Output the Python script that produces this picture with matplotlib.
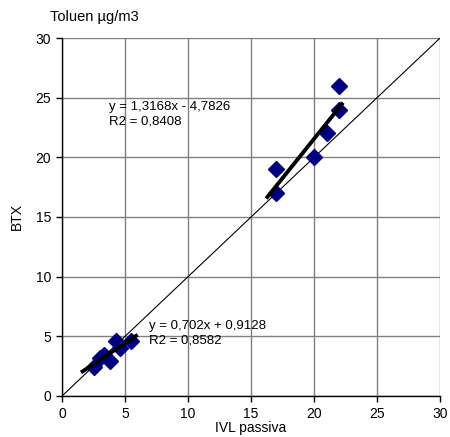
import numpy as np
import matplotlib
matplotlib.use("Agg")
import matplotlib.pyplot as plt

plt.rcParams['font.family'] = ['Liberation Sans', 'DejaVu Sans']

# passive sampler (IVL) vs BTX readings
ivl_low = [2.5, 3.0, 3.3, 3.8, 4.3, 4.6, 5.5]
btx_low = [2.4, 3.2, 3.4, 2.9, 4.6, 4.0, 4.6]
ivl_high = [17, 17, 20, 21, 22, 22]
btx_high = [19, 17, 20, 22, 24, 26]

# trendline coefficients (slope, intercept, R2) and the x span they are drawn over
fit_low = (0.702, 0.9128, 0.8582)
fit_high = (1.3168, -4.7826, 0.8408)
span_low = (1.5, 6.0)
span_high = (16.2, 22.3)

ticks = [0, 5, 10, 15, 20, 25, 30]


def fmt(v, nd):
    return ("%.*f" % (nd, abs(v))).replace(".", ",")


fig = plt.figure(figsize=(4.5, 4.37), dpi=100)
ax = fig.add_axes([0.138, 0.094, 0.84, 0.819])

ax.set_xlim(0, 30)
ax.set_ylim(0, 30)
ax.set_xticks(ticks)
ax.set_yticks(ticks)
ax.grid(True, color="#808080", lw=1.0)
ax.set_axisbelow(True)
for s in ["top", "right"]:
    ax.spines[s].set_visible(False)
for s in ["left", "bottom"]:
    ax.spines[s].set_color("black")
    ax.spines[s].set_linewidth(1.0)
ax.tick_params(direction="out", length=4, width=1, labelsize=10, pad=4)

# 1:1 reference line
ax.plot([0, 30], [0, 30], color="black", lw=0.8, zorder=2)

ax.plot(ivl_low, btx_low, "D", color="#000080", ms=8, mec="#000080", zorder=3, clip_on=False)
ax.plot(ivl_high, btx_high, "D", color="#000080", ms=8, mec="#000080", zorder=3, clip_on=False)

for (a, b, r2), (x0, x1) in [(fit_low, span_low), (fit_high, span_high)]:
    xs = np.array([x0, x1])
    ax.plot(xs, a * xs + b, color="black", lw=2.8, solid_capstyle="butt", zorder=4)

a, b, r2 = fit_high
ax.text(3.7, 24.7, "y = %sx %s %s\nR2 = %s" % (fmt(a, 4), "-" if b < 0 else "+", fmt(b, 4), fmt(r2, 4)),
        fontsize=9.5, va="top", ha="left", linespacing=1.3)
a, b, r2 = fit_low
ax.text(6.9, 6.4, "y = %sx %s %s\nR2 = %s" % (fmt(a, 3), "-" if b < 0 else "+", fmt(b, 4), fmt(r2, 4)),
        fontsize=9.5, va="top", ha="left", linespacing=1.3)

ax.set_xlabel("IVL passiva", fontsize=10, labelpad=0)
ax.set_ylabel("BTX", fontsize=10, labelpad=8)
fig.text(0.11, 0.962, "Toluen µg/m3", fontsize=10.5, ha="left", va="center")

fig.savefig("out.png", dpi=100)
